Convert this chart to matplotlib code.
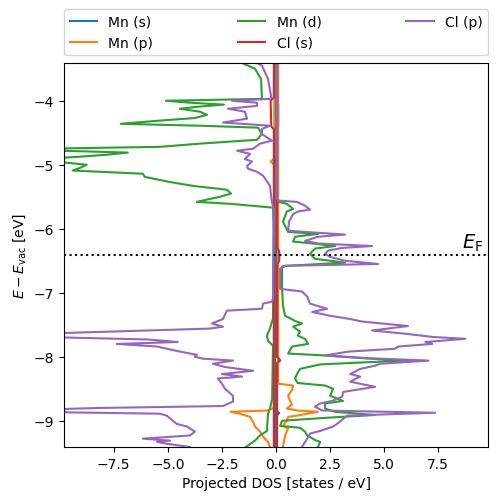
import numpy as np
import matplotlib.pyplot as plt

e_fermi = -6.41

# Mn (s)
mns_up_e = [-3.41, -4.0, -4.05, -4.4, -4.45, -8.0, -8.06, -8.1, -8.85, -8.88, -8.92, -9.41]
mns_up = [0.03, 0.03, 0.1, 0.1, 0.03, 0.03, 0.2, 0.03, 0.03, 0.15, 0.03, 0.03]
mns_dn_e = [-3.41, -9.41]
mns_dn = [-0.05, -0.05]

# Mn (p)
mnp_up_e = [-3.41, -8.42, -8.45, -8.52, -8.61, -8.69, -8.75, -8.81, -8.84, -8.86, -8.92,
            -8.94, -9.0, -9.08, -9.12, -9.23, -9.41]
mnp_up = [0.1, 0.1, 0.79, 0.74, 0.56, 0.65, 0.74, 0.5, 0.97, 1.94, 0.97,
          0.56, 0.5, 0.32, 0.56, 0.42, 0.32]
mnp_dn_e = [-3.41, -4.9, -4.95, -5.0, -8.8, -8.84, -8.86, -8.89, -8.94, -9.02, -9.09,
            -9.17, -9.25, -9.33, -9.41]
mnp_dn = [-0.08, -0.08, -0.25, -0.08, -0.1, -0.4, -2.1, -1.67, -1.2, -1.06, -0.97,
          -0.74, -0.6, -0.37, -0.28]

# Mn (d)
mnd_up_e = [-3.41, -5.53, -5.58, -5.61, -5.69, -5.73, -5.89, -6.05, -6.08, -6.125, -6.2,
            -6.23, -6.27, -6.31, -6.39, -6.47, -6.53, -6.58, -6.59, -6.94, -7.2, -7.36,
            -7.44, -7.48, -7.53, -7.61, -7.67, -7.72, -7.8, -7.84, -7.95, -7.98, -8.03,
            -8.06, -8.09, -8.12, -8.19, -8.27, -8.34, -8.41, -8.45, -8.5, -8.61, -8.69,
            -8.73, -8.81, -8.86, -8.91, -8.95, -9.0, -9.08, -9.11, -9.17, -9.23, -9.3,
            -9.33, -9.41]
mnd_up = [0.05, 0.05, 0.1, 0.5, 0.79, 0.5, 0.32, 0.56, 1.94, 0.88, 0.79,
          1.67, 2.73, 1.8, 1.57, 1.8, 3.19, 0.42, 0.28, 0.28, 0.32, 0.42,
          0.88, 1.2, 0.79, 1.11, 1.0, 1.34, 1.48, 0.74, 0.56, 2.27, 4.35,
          6.06, 3.9, 2.04, 1.11, 0.97, 0.88, 1.0, 2.27, 2.64, 2.5, 3.1,
          2.27, 2.27, 2.73, 4.58, 2.5, 0.28, 0.19, 1.11, 1.34, 1.44, 1.8,
          2.04, 1.94]
mnd_dn_e = [-3.41, -3.5, -3.66, -3.97, -4.0, -4.03, -4.06, -4.09, -4.125, -4.17, -4.22,
            -4.27, -4.31, -4.36, -4.39, -4.42, -4.52, -4.61, -4.67, -4.72, -4.75, -4.78,
            -4.81, -4.84, -4.875, -4.91, -4.95, -5.0, -5.05, -5.09, -5.14, -5.19, -5.27,
            -5.33, -5.39, -5.45, -5.5, -5.58, -5.61, -5.67, -6.0, -7.4, -7.56, -7.67,
            -7.75, -7.83, -8.66, -8.81, -8.89, -9.16, -9.23, -9.31, -9.41]
mnd_dn = [-1.57, -0.97, -0.69, -0.65, -5.09, -3.98, -2.41, -3.52, -4.44, -3.52, -3.19,
          -3.75, -5.37, -7.18, -3.52, -0.83, -0.65, -0.88, -3.52, -5.37, -10.9, -10.0,
          -6.85, -7.7, -9.1, -10.9, -10.2, -8.75, -9.07, -9.4, -6.16, -6.06, -4.9,
          -3.84, -2.27, -2.08, -2.6, -3.66, -2.13, -0.14, -0.1, -0.14, -0.28, -0.42,
          -0.37, -0.14, -0.18, -0.28, -0.37, -0.42, -0.74, -0.97, -1.39]

# Cl (s)
cls_up_e = [-3.41, -6.3, -6.35, -6.5, -6.55, -8.0, -8.05, -8.1, -9.41]
cls_up = [0.05, 0.05, 0.15, 0.15, 0.05, 0.05, 0.18, 0.05, 0.05]
cls_dn_e = [-3.41, -3.95, -4.0, -4.4, -4.45, -9.41]
cls_dn = [-0.1, -0.1, -0.25, -0.22, -0.1, -0.1]

# Cl (p)
clp_up_e = [-3.41, -5.53, -5.56, -5.58, -5.64, -5.7, -5.73, -5.77, -5.89, -6.03, -6.06,
            -6.09, -6.125, -6.19, -6.23, -6.27, -6.3, -6.34, -6.39, -6.44, -6.5, -6.55,
            -6.58, -6.625, -6.94, -6.98, -7.06, -7.17, -7.25, -7.3, -7.36, -7.41, -7.45,
            -7.52, -7.59, -7.64, -7.69, -7.72, -7.77, -7.8, -7.84, -7.875, -7.92, -7.98,
            -8.02, -8.06, -8.11, -8.14, -8.19, -8.27, -8.31, -8.39, -8.47, -8.55, -8.625,
            -8.69, -8.73, -8.78, -8.84, -8.875, -8.92, -8.97, -9.05, -9.09, -9.16, -9.2,
            -9.28, -9.41]
clp_up = [0.05, 0.05, 0.1, 0.97, 1.34, 1.57, 1.02, 0.79, 0.6, 0.56, 1.8,
          3.19, 1.94, 1.34, 1.94, 4.44, 3.06, 2.41, 2.27, 2.5, 3.19, 4.72,
          0.42, 0.19, 0.19, 1.2, 1.44, 1.57, 2.36, 1.67, 2.5, 3.43, 3.98,
          6.1, 4.44, 5.97, 7.22, 8.75, 6.9, 7.22, 5.65, 5.5, 3.33, 2.27,
          4.12, 7.04, 4.81, 4.58, 3.89, 3.43, 3.89, 3.43, 4.58, 3.1, 3.06,
          2.59, 2.04, 1.8, 2.13, 7.36, 3.29, 3.1, 2.82, 2.64, 2.04, 1.57,
          1.44, 1.2]
clp_dn_e = [-3.41, -3.45, -3.66, -3.92, -3.97, -4.0, -4.03, -4.08, -4.125, -4.17, -4.28,
            -4.34, -4.39, -4.44, -4.52, -4.625, -4.67, -4.75, -4.78, -4.83, -4.91, -4.95,
            -5.02, -5.06, -5.11, -5.17, -5.33, -5.58, -5.69, -7.09, -7.14, -7.17, -7.25,
            -7.28, -7.41, -7.48, -7.53, -7.56, -7.59, -7.64, -7.69, -7.73, -7.77, -7.8,
            -7.84, -7.91, -7.97, -8.0, -8.03, -8.06, -8.11, -8.16, -8.22, -8.27, -8.31,
            -8.34, -8.42, -8.5, -8.61, -8.7, -8.77, -8.8, -8.83, -8.86, -8.89, -8.92,
            -9.0, -9.05, -9.09, -9.17, -9.23, -9.28, -9.31, -9.33, -9.36, -9.41]
clp_dn = [-0.88, -0.65, -0.37, -0.23, -0.23, -2.04, -0.88, -0.88, -2.22, -1.44, -1.34,
          -2.45, -0.28, -0.65, -0.65, -0.19, -0.74, -1.06, -1.8, -1.2, -1.44, -1.11,
          -1.34, -1.3, -0.88, -0.6, -0.28, -0.19, -0.1, -0.14, -0.19, -0.6, -0.65,
          -2.27, -2.45, -2.96, -2.45, -3.06, -5.97, -10.9, -10.9, -5.93, -4.54, -7.36,
          -5.5, -4.58, -3.66, -3.75, -3.38, -1.99, -2.92, -2.36, -1.06, -2.5, -1.57,
          -2.69, -2.5, -2.36, -1.99, -1.99, -2.45, -8.1, -11.4, -11.4, -5.37, -5.05,
          -4.77, -4.58, -4.12, -3.75, -3.98, -6.16, -4.9, -5.5, -5.05, -3.98]

series = [
    ('Mn (s)', 'C0', mns_up_e, mns_up, mns_dn_e, mns_dn),
    ('Mn (p)', 'C1', mnp_up_e, mnp_up, mnp_dn_e, mnp_dn),
    ('Mn (d)', 'C2', mnd_up_e, mnd_up, mnd_dn_e, mnd_dn),
    ('Cl (s)', 'C3', cls_up_e, cls_up, cls_dn_e, cls_dn),
    ('Cl (p)', 'C4', clp_up_e, clp_up, clp_dn_e, clp_dn),
]

fig = plt.figure(figsize=(4.98, 5.02), dpi=100)
ax = fig.add_axes([0.1285, 0.1076, 0.8515, 0.7649])

for label, color, e_up, d_up, e_dn, d_dn in series:
    ax.plot(d_up, e_up, color=color, lw=1.5, label=label)
    ax.plot(d_dn, e_dn, color=color, lw=1.5)

ax.axhline(e_fermi, color='k', ls=':', lw=1.5)
ax.text(9.6, e_fermi + 0.03, r'$E_\mathrm{F}$', fontsize=14, ha='right', va='bottom')

ax.set_xlim(-9.8, 9.8)
ax.set_ylim(e_fermi - 3, e_fermi + 3)
ax.set_xlabel('Projected DOS [states / eV]')
ax.set_ylabel(r'$E - E_\mathrm{vac}$ [eV]')
ax.legend(bbox_to_anchor=(0, 1.02, 1, 0.102), loc='lower left', ncol=3,
          mode='expand', borderaxespad=0)

fig.savefig('out.png', dpi=100)
